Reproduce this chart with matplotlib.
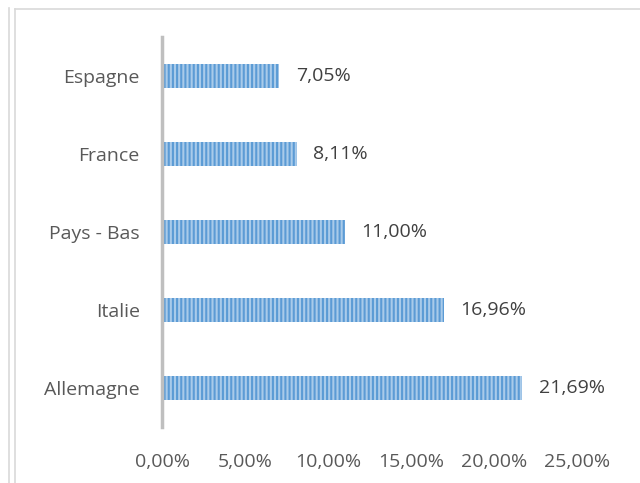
import matplotlib
matplotlib.use("Agg")
import matplotlib.pyplot as plt
from matplotlib.lines import Line2D
from matplotlib.ticker import FuncFormatter

categories = ["Allemagne", "Italie", "Pays - Bas", "France", "Espagne"]
values = [21.69, 16.96, 11.00, 8.11, 7.05]
xticks = [0, 5, 10, 15, 20, 25]

plt.rcParams['font.family'] = ['Open Sans', 'DejaVu Sans']
plt.rcParams['hatch.linewidth'] = 1.5
plt.rcParams['hatch.color'] = '#5B9BD5'

fig = plt.figure(figsize=(6.4, 4.83), dpi=100)
ax = fig.add_axes([162/640, 1 - 427/483, (577-162)/640, (427-37)/483])

fmt = lambda v: f"{v:.2f}".replace(".", ",") + "%"

ypos = list(range(len(categories)))
bars = ax.barh(ypos, values, height=0.32, color='#A9CBEA', edgecolor='#5B9BD5',
               hatch='||||', linewidth=0)
for y, v in zip(ypos, values):
    ax.annotate(fmt(v), (v, y), xytext=(12, 0), textcoords='offset points',
                va='center', ha='left', fontsize=14, color='#404040')

ax.set_xlim(0, 25)
ax.set_ylim(-0.5, len(categories) - 0.5)
ax.set_yticks(ypos)
ax.set_yticklabels(categories)
ax.set_xticks(xticks)
ax.xaxis.set_major_formatter(FuncFormatter(lambda v, p: fmt(v)))
for s in ['top', 'right', 'bottom']:
    ax.spines[s].set_visible(False)
ax.spines['left'].set_color('#BFBFBF')
ax.spines['left'].set_linewidth(2.5)
ax.tick_params(axis='both', length=0, labelsize=14, labelcolor='#595959')
ax.tick_params(axis='y', pad=16)
ax.tick_params(axis='x', pad=19)

# outer frame lines
fig.add_artist(Line2D([9/640, 9/640], [0, 1 - 8/483], color='#D9D9D9', lw=1.2))
fig.add_artist(Line2D([15/640, 15/640], [0, 1 - 9/483], color='#D9D9D9', lw=1.2))
fig.add_artist(Line2D([15/640, 1], [1 - 9/483, 1 - 9/483], color='#D9D9D9', lw=1.2))

fig.savefig("out.png", dpi=100)
